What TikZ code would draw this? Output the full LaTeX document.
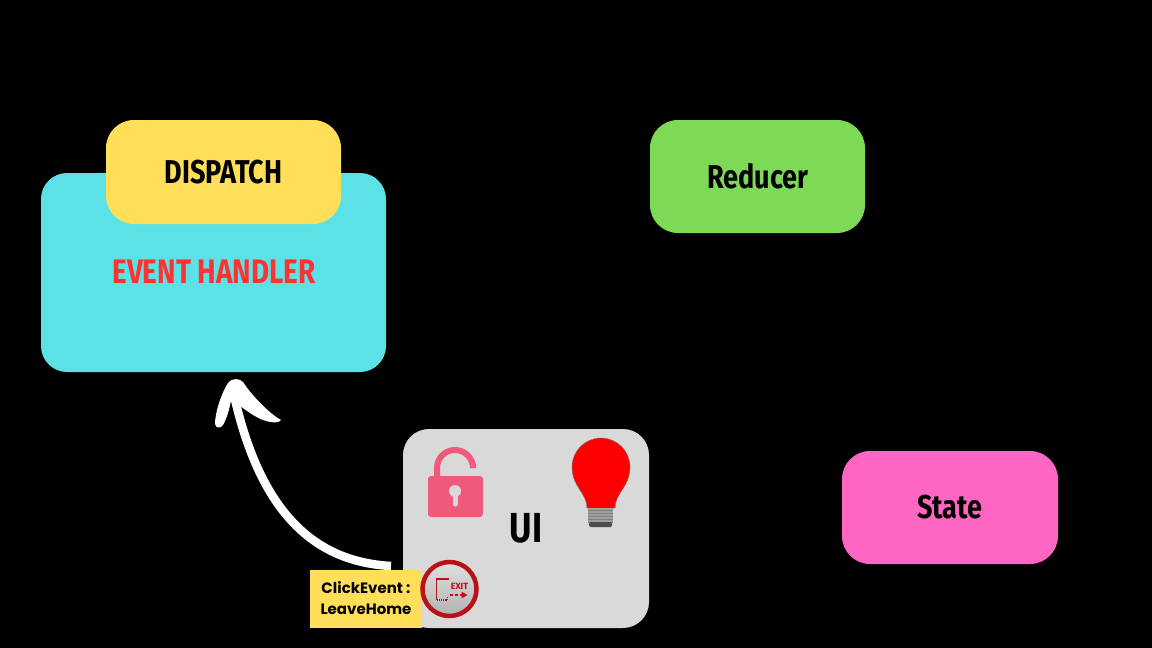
\documentclass[tikz,border=0pt]{standalone}
\usepackage{fontspec}
\setmainfont{Fira Sans}
\newfontfamily\handfont{Fira Sans}[BoldFeatures={FakeStretch=0.82}]
\newfontfamily\labelfont{Poppins}
\usetikzlibrary{calc,shadings}
\definecolor{cyanbox}{HTML}{5CE1E6}
\definecolor{yellowbox}{HTML}{FFDE59}
\definecolor{greenbox}{HTML}{7ED957}
\definecolor{pinkbox}{HTML}{FF66C4}
\definecolor{graybox}{HTML}{D9D9D9}
\definecolor{labelred}{HTML}{FF3131}
\definecolor{lockpink}{HTML}{EF5A7A}
\definecolor{exitred}{HTML}{B81218}
\tikzset{
  x=1pt,y=-1pt,
  box/.style={rounded corners=#1,inner sep=0pt,outer sep=0pt,anchor=north west},
  hand/.style={font=\handfont\bfseries\fontsize{33}{33}\selectfont,text=black,inner sep=0pt},
}
\begin{document}
\begin{tikzpicture}
\fill[black] (0,0) rectangle (1152,648);
\useasboundingbox (0,0) rectangle (1152,648);
% boxes
\node[box=26pt,fill=cyanbox,minimum width=345pt,minimum height=199pt] (handler) at (41,173) {};
\node[box=28pt,fill=yellowbox,minimum width=235pt,minimum height=104pt] (dispatch) at (106,120) {};
\node[box=28pt,fill=greenbox,minimum width=215pt,minimum height=113pt] (reducer) at (650,120) {};
\node[box=28pt,fill=pinkbox,minimum width=216pt,minimum height=113pt] (state) at (842,451) {};
\node[box=26pt,fill=graybox,minimum width=246pt,minimum height=199pt] (ui) at (403,429) {};
% texts
\node[hand] (dispatchtext) at (223.5,172) {DISPATCH};
\node[hand,font=\handfont\bfseries\fontsize{34}{34}\selectfont,text=labelred] (handlertext) at (214,272) {EVENT HANDLER};
\node[hand] (reducertext) at (758,176) {Reducer};
\node[hand] (statetext) at (950,507) {State};
\node[hand,font=\handfont\bfseries\fontsize{42}{42}\selectfont] (uitext) at (526,528) {UI};
% lock
\fill[lockpink,rounded corners=3pt] (428,476) rectangle (483,517);
\draw[lockpink,line width=6pt] (437,478) -- (437,468) arc[start angle=180,end angle=360,radius=18] -- (473,463.5);
\fill[graybox] (455,491) circle[radius=6];
\draw[graybox,line width=5pt,line cap=round] (455,492) -- (455,504);
% bulb
\fill[red,draw=black!55,line width=0.4pt] (587,508) .. controls (587,493) and (572,487) .. (572,467)
  .. controls (572,451) and (585,438) .. (601,438)
  .. controls (617,438) and (630,451) .. (630,467)
  .. controls (630,487) and (615,493) .. (615,508) -- cycle;
\fill[gray!75] (588,508) rectangle (613,523);
\foreach \yy in {510,513,516,519,522}{\draw[black!50,line width=0.6pt] (588,\yy) -- (613,\yy);}
\fill[black!70,rounded corners=2pt] (589,522) rectangle (612,527);
% label
\node[box=0pt,fill=yellowbox,minimum width=112pt,minimum height=58pt,align=center] (label) at (310,570) {};
% arrow
\coordinate (tail) at ($(label.north east)+(-31,-4)$);
\coordinate (neck) at ($(handler.south west)+(193,23)$);
\draw[white,line width=8.5pt] (tail) .. controls (320,562) and (262,520) .. (neck);
\fill[white] (228,383) .. controls (222,392) and (215,412) .. (215,424)
  .. controls (216,429) and (221,428) .. (223,425)
  .. controls (227,418) and (229,410) .. (231,401)
  .. controls (238,402) and (254,420) .. (271,422)
  .. controls (275,423) and (280,422) .. (281,420)
  .. controls (270,414) and (252,396) .. (243,382)
  .. controls (240,378) and (231,378) .. (228,383) -- cycle;
\node[font=\labelfont\bfseries\fontsize{15}{21}\selectfont,text=black,align=center,inner sep=0pt] (labeltext) at (366,598) {ClickEvent :\\LeaveHome};
% exit button
\node[circle,draw=exitred,line width=4.5pt,top color=black!12,bottom color=black!30,minimum size=54pt,inner sep=0pt] (exit) at (449.5,589) {};
\draw[exitred,line width=1.3pt] ($(exit.center)+(-1,-10)$) -- ($(exit.center)+(-13,-10)$) -- ($(exit.center)+(-13,11)$);
\draw[exitred,line width=1.2pt,densely dotted] ($(exit.center)+(-13,11)$) -- ($(exit.center)+(-2,11)$) -- ($(exit.center)+(-2,8)$);
\node[font=\bfseries\fontsize{9}{9}\selectfont,text=exitred,inner sep=0pt] (exittext) at ($(exit.center)+(10,-3)$) {EXIT};
\draw[exitred,line width=1.6pt,densely dashed] ($(exit.center)+(0,6)$) -- ($(exit.center)+(13,6)$);
\fill[exitred] ($(exit.center)+(18,6)$) -- ($(exit.center)+(12,2.5)$) -- ($(exit.center)+(12,9.5)$) -- cycle;
\end{tikzpicture}
\end{document}
